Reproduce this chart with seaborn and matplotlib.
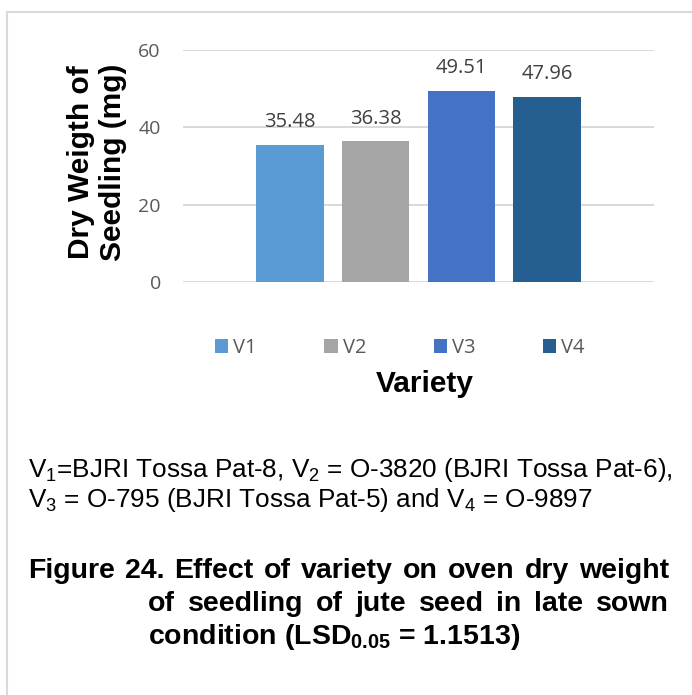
import matplotlib
matplotlib.use("Agg")
import matplotlib.pyplot as plt
from matplotlib.lines import Line2D
from matplotlib.patches import Patch
import seaborn as sns
import pandas as pd

# Chart data
varieties = ["V1", "V2", "V3", "V4"]
dry_weight = [35.48, 36.38, 49.51, 47.96]
bar_colors = ["#5B9BD5", "#A5A5A5", "#4472C4", "#255E91"]
y_ticks = [0, 20, 40, 60]

note_line1 = "V$_1$=BJRI Tossa Pat-8, V$_2$ = O-3820 (BJRI Tossa Pat-6),"
note_line2 = "V$_3$ = O-795 (BJRI Tossa Pat-5) and V$_4$ = O-9897"
title_line1 = "Figure 24. Effect of variety on oven dry weight"
title_line2 = "of seedling of jute seed in late sown"
title_line3 = r"condition (LSD$_\mathbf{0.05}$ = 1.1513)"

sns.set_theme(style="white")
plt.rcParams["font.family"] = ["Liberation Sans", "DejaVu Sans"]
plt.rcParams["mathtext.fontset"] = "custom"
plt.rcParams["mathtext.rm"] = "Liberation Sans"
plt.rcParams["mathtext.it"] = "Liberation Sans"
plt.rcParams["mathtext.bf"] = "Liberation Sans:bold"
plt.rcParams["mathtext.default"] = "rm"

W, H = 692, 695
fig = plt.figure(figsize=(W / 100, H / 100), dpi=100)
fig.patch.set_facecolor("white")


def fx(px):
    return px / W


def fy(py):
    return 1 - py / H


ax = fig.add_axes([fx(183), fy(282), fx(654) - fx(183), fy(50) - fy(282)])

df = pd.DataFrame({"group": ["all"] * len(varieties),
                   "variety": varieties,
                   "weight": dry_weight})

sns.barplot(data=df, x="group", y="weight", hue="variety",
            hue_order=varieties, palette=bar_colors, width=0.73, gap=0.21,
            linewidth=0, saturation=1, legend=False, ax=ax, errorbar=None)

ax.set_xlim(-0.5, 0.5)
ax.set_ylim(0, 60)
ax.set_yticks(y_ticks)
ax.set_yticklabels([str(t) for t in y_ticks], family="Open Sans",
                   fontsize=14, color="#595959")
ax.tick_params(axis="y", length=0, pad=16)
ax.set_xticks([])
ax.set_xlabel("")
for s in ax.spines.values():
    s.set_visible(False)
ax.yaxis.grid(True, color="#d9d9d9", linewidth=1.4)
ax.set_axisbelow(True)

# value labels above each bar
for cont, v in zip(ax.containers, dry_weight):
    ax.bar_label(cont, labels=[f"{v:.2f}"], padding=9, family="Open Sans",
                 fontsize=14.5, color="#404040")

ax.set_ylabel("Dry Weigth of\nSeedling (mg)", fontsize=21.5,
              fontweight="bold", color="black", linespacing=1.22)
ax.yaxis.label.set_va("center")
ax.yaxis.set_label_coords((97 - 183) / 471, 0.515)

fig.text(fx(425), fy(384), "Variety", ha="center", va="center",
         fontsize=21.5, fontweight="bold", color="black")

handles = [Patch(facecolor=c, edgecolor="none") for c in bar_colors]
fig.legend(handles, varieties, loc="center", bbox_to_anchor=(fx(400), fy(348)),
           ncol=4, frameon=False, prop={"family": "Open Sans", "size": 14.5},
           labelcolor="#595959", handlelength=0.65, handleheight=0.65,
           handletextpad=0.26, columnspacing=3.35, borderaxespad=0)

# frame edge around the chart area
fig.add_artist(Line2D([fx(7), fx(7)], [fy(12), 0], color="#d9d9d9",
                      linewidth=1.5, transform=fig.transFigure))
fig.add_artist(Line2D([fx(7), 1], [fy(12), fy(12)], color="#d9d9d9",
                      linewidth=1.5, transform=fig.transFigure))

# notes below the chart
fig.text(fx(28), fy(477), note_line1, ha="left", va="baseline",
         fontsize=18.8, color="black")
fig.text(fx(28), fy(507), note_line2, ha="left", va="baseline",
         fontsize=18.8, color="black")

renderer = fig.canvas.get_renderer()


def justified_line(text, x0, x1, y, **kw):
    """Draw a line of words spread evenly between x0 and x1 (pixels)."""
    words = text.split(" ")
    items = [fig.text(0, fy(y), w, ha="left", va="baseline", **kw)
             for w in words]
    widths = [t.get_window_extent(renderer).width for t in items]
    space = (x1 - x0 - sum(widths)) / (len(words) - 1)
    x = x0
    for t, w in zip(items, widths):
        t.set_x(fx(x))
        x += w + space


caption_kw = dict(fontsize=20.5, fontweight="bold", color="black")
justified_line(title_line1, 28, 669, 578, **caption_kw)
justified_line(title_line2, 148, 669, 611, **caption_kw)
fig.text(fx(148), fy(644), title_line3, ha="left", va="baseline", **caption_kw)

fig.savefig("out.png", dpi=100)
